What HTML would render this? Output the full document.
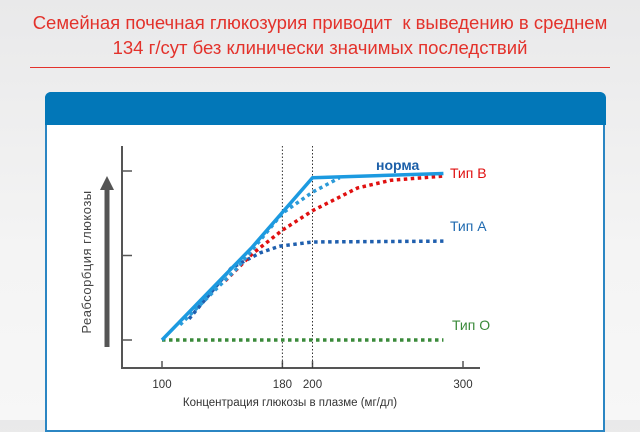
<!DOCTYPE html>
<html><head><meta charset="utf-8"><style>
html,body{margin:0;padding:0;}
body{width:640px;height:420px;overflow:hidden;background:linear-gradient(#e9e9ea,#f4f4f4 60%,#f7f7f7);font-family:"Liberation Sans",sans-serif;position:relative;}
.title{position:absolute;left:0;width:640px;top:10px;text-align:center;color:#e3322b;font-size:18.5px;line-height:25px;}
.rule{position:absolute;left:30px;top:67px;width:580px;height:1px;background:#e3322b;}
.panel{position:absolute;left:45px;top:92px;width:560px;height:340px;background:#fff;border:2px solid #2b86c3;border-radius:6px 6px 0 0;box-sizing:border-box;}
.header{position:absolute;left:45px;top:92px;width:561px;height:33px;background:#0277b8;border-radius:6px 6px 0 0;}
svg{position:absolute;left:0;top:0;}
</style></head><body>
<div class="title">Семейная почечная глюкозурия приводит&nbsp; к выведению в среднем<br>134 г/сут без клинически значимых последствий</div>
<div class="rule"></div>
<div class="panel"></div>
<div class="header"></div>
<svg id="chart" width="640" height="420"></svg>
<script>
const xTicks=[100,180,200,300];
const normaX=[100,160,200,287];
const normaY=[0,1.10,1.92,1.97];
const typeLatentX=[112,150,180,200,218];
const typeLatentY=[0.18,0.85,1.50,1.75,1.92];
const typeBX=[142,160,180,200,230,252,287];
const typeBY=[0.70,1.02,1.30,1.53,1.80,1.89,1.94];
const typeAX=[118,146,165,178,200,287];
const typeAY=[0.25,0.85,1.03,1.11,1.16,1.17];
const typeOX=[100,287];
const typeOY=[0,0];
const yLevels=[0,1,2];
const NS="http://www.w3.org/2000/svg";
const svg=document.getElementById('chart');
const sx=v=>162+(v-100)*1.505;
const sy=v=>340-v*84.5;
function mk(tag,attrs){const e=document.createElementNS(NS,tag);for(const k in attrs)e.setAttribute(k,attrs[k]);svg.appendChild(e);return e;}
function txt(s,x,y,attrs){const e=mk('text',Object.assign({x:x,y:y},attrs));e.textContent=s;return e;}
let e=mk('line',{x1:122,y1:146,x2:122,y2:369,stroke:'#555','stroke-width':2});


e=mk('line',{x1:121,y1:368,x2:480,y2:368,stroke:'#555','stroke-width':2});


yLevels.forEach(v=>{const t=mk('line',{x1:122,y1:sy(v),x2:132,y2:sy(v),stroke:'#555','stroke-width':1.5});

});
xTicks.forEach(v=>{const t=mk('line',{x1:sx(v),y1:361,x2:sx(v),y2:368,stroke:'#555','stroke-width':1.5});


const l=txt(String(v),sx(v),388,{'text-anchor':'middle','font-size':11.5,fill:'#333'});

});
[180,200].forEach(v=>{const g=mk('line',{x1:sx(v),y1:146,x2:sx(v),y2:368,stroke:'#333','stroke-width':1,'stroke-dasharray':'1.5,2'});

});
e=mk('line',{x1:107,y1:347,x2:107,y2:188,stroke:'#555','stroke-width':5});


e=mk('polygon',{points:'100,190 107,176 114,190',fill:'#555'});


e=txt('Реабсорбция  глюкозы',0,0,{transform:'translate(91,262) rotate(-90)','text-anchor':'middle','font-size':13,fill:'#444','letter-spacing':'0.5'});


e=txt('Концентрация  глюкозы в плазме (мг/дл)',290,406,{'text-anchor':'middle','font-size':11.5,fill:'#333'});


function series(xs,ys,color,w,dash,name){const pts=xs.map((x,i)=>sx(x)+','+sy(ys[i])).join(' ');
const p=mk('polyline',{points:pts,fill:'none',stroke:color,'stroke-width':w,'stroke-dasharray':dash||'','stroke-linejoin':'round'});

}
series(typeOX,typeOY,'#3a8a3a',3.5,'3.5,3.5','series-type-o');
series(typeAX,typeAY,'#1f5fae',3.5,'3.5,3.5','series-type-a');
series(typeBX,typeBY,'#e01010',3.5,'3.5,3.5','series-type-b');
series(typeLatentX,typeLatentY,'#2c9ad8',3.5,'3.5,3.5','series-type-latent');
series(normaX,normaY,'#1c9ae0',3.5,'','series-norma');
e=txt('норма',376,170,{'font-size':14,fill:'#1c5fa8','font-weight':'bold'});


e=txt('Тип B',450,178,{'font-size':14,fill:'#e01010'});


e=txt('Тип A',450,231,{'font-size':14,fill:'#1f6ab0'});


e=txt('Тип O',452,330,{'font-size':14,fill:'#3a8a3a'});


</script>
</body></html>
